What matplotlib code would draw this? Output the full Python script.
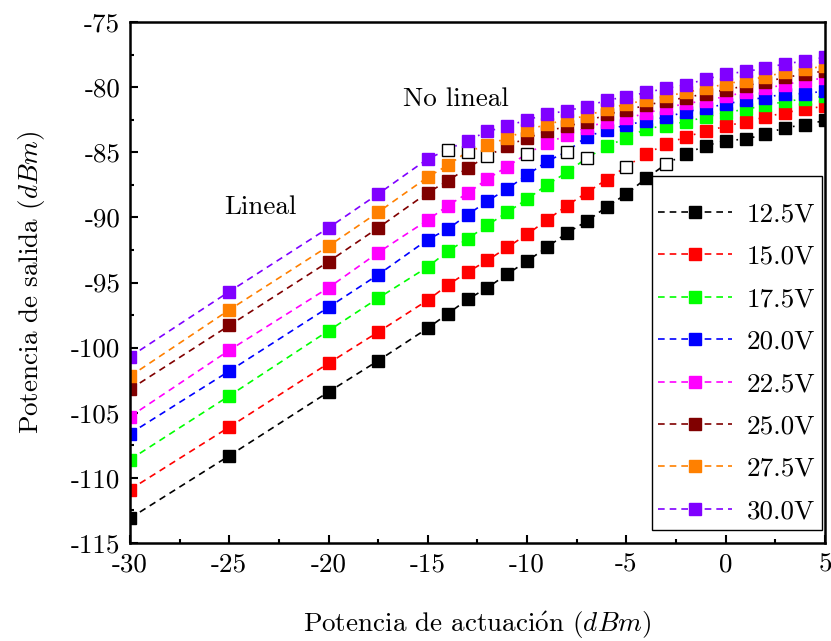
import numpy as np
import matplotlib.pyplot as plt
from matplotlib.lines import Line2D

plt.rcParams['font.family'] = 'cmr10'
plt.rcParams['mathtext.fontset'] = 'cm'
plt.rcParams['axes.unicode_minus'] = False

# potencia de actuacion (dBm)
x = [-30, -25, -20, -17.5, -15, -14, -13, -12, -11, -10, -9, -8, -7, -6, -5,
     -4, -3, -2, -1, 0, 1, 2, 3, 4, 5]

tensiones = ['12.5V', '15.0V', '17.5V', '20.0V', '22.5V', '25.0V', '27.5V', '30.0V']
colores = ['#000000', '#ff0000', '#00ff00', '#0000ff', '#ff00ff', '#800000', '#ff8000', '#8000ff']
# punto donde termina la zona lineal (cuadro hueco)
x_transicion = [-3, -5, -7, -8, -10, -12, -13, -14]

v125 = [-113.1, -108.3, -103.4, -101.0, -98.5, -97.4, -96.3, -95.4, -94.35, -93.35, -92.3, -91.2,
        -90.3, -89.2, -88.2, -87.0, -85.9, -85.1, -84.5, -84.1, -84.0, -83.6, -83.1, -82.9, -82.55]
v150 = [-110.9, -106.1, -101.2, -98.8, -96.35, -95.2, -94.2, -93.3, -92.3, -91.3, -90.2, -89.1,
        -88.1, -87.1, -86.1, -85.1, -84.4, -83.8, -83.4, -83.0, -82.65, -82.3, -81.95, -81.7, -81.45]
v175 = [-108.6, -103.7, -98.7, -96.2, -93.8, -92.6, -91.65, -90.6, -89.6, -88.6, -87.5, -86.55,
        -85.45, -84.55, -83.9, -83.2, -82.95, -82.65, -82.3, -81.95, -81.7, -81.4, -81.1, -80.9, -80.7]
v200 = [-106.6, -101.8, -96.9, -94.4, -91.7, -90.9, -89.8, -88.75, -87.8, -86.75, -85.7, -84.95,
        -83.8, -83.3, -82.9, -82.6, -82.3, -81.9, -81.6, -81.3, -81.0, -80.8, -80.5, -80.5, -80.3]
v225 = [-105.3, -100.2, -95.4, -92.7, -90.2, -89.1, -88.15, -87.05, -86.1, -85.1, -84.3, -83.7,
        -83.1, -82.65, -82.4, -82.0, -81.6, -81.25, -81.05, -80.7, -80.4, -80.1, -79.8, -79.5, -79.3]
v250 = [-103.2, -98.3, -93.4, -90.8, -88.1, -87.2, -86.2, -85.3, -84.5, -83.9, -83.4, -83.0,
        -82.65, -82.1, -81.75, -81.4, -81.05, -80.8, -80.5, -80.2, -79.9, -79.6, -79.25, -79.0, -78.75]
v275 = [-102.2, -97.1, -92.2, -89.6, -86.9, -86.0, -84.95, -84.45, -83.9, -83.3, -82.85, -82.5,
        -82.2, -81.7, -81.3, -81.0, -80.7, -80.4, -80.1, -79.75, -79.5, -79.2, -78.85, -78.6, -78.4]
v300 = [-100.7, -95.7, -90.8, -88.2, -85.5, -84.8, -84.1, -83.4, -83.0, -82.5, -82.1, -81.8,
        -81.5, -81.0, -80.75, -80.4, -80.1, -79.8, -79.4, -79.0, -78.8, -78.55, -78.2, -78.0, -77.7]
series = [v125, v150, v175, v200, v225, v250, v275, v300]

fs = 19.5
fig = plt.figure(figsize=(8.31, 6.41), dpi=100)
ax = fig.add_axes([130/831, 1-543/641, 695/831, 521/641])

xs = np.array(x)
handles = []
for y, c, xt, lab in zip(series, colores, x_transicion, tensiones):
    y = np.array(y)
    i = x.index(xt)
    ax.plot(xs[:i+1], y[:i+1], color=c, lw=1.2, dashes=(4, 3))
    ax.plot(xs[i:], y[i:], color=c, lw=1.2, dashes=(1, 4))
    m = np.arange(len(x)) != i
    ax.plot(xs[m], y[m], ls='none', marker='s', ms=8.5, color=c, mec=c)
    ax.plot(xs[i], y[i], ls='none', marker='s', ms=8.5, mfc='white', mec='black', mew=1.0)
    handles.append(Line2D([], [], color=c, lw=1.2, dashes=(4, 3), marker='s', ms=8.5, mec=c))

ax.set_xlim(-30, 5)
ax.set_ylim(-115, -75)
xt_ = [-30, -25, -20, -15, -10, -5, 0, 5]
yt_ = [-115, -110, -105, -100, -95, -90, -85, -80, -75]
ax.set_xticks(xt_)
ax.set_xticklabels([str(v) for v in xt_])
ax.set_yticks(yt_)
ax.set_yticklabels([str(v) for v in yt_])
ax.set_xticks(np.arange(-27.5, 5, 5), minor=True)
ax.set_yticks(np.arange(-112.5, -75, 5), minor=True)
ax.tick_params(which='both', direction='in', labelsize=fs, width=1.5)
ax.tick_params(which='major', length=6, pad=7)
ax.tick_params(which='minor', length=3)
for s in ax.spines.values():
    s.set_linewidth(1.8)

ax.set_xlabel(r'Potencia de actuaci$\mathrm{\acute{o}}$n $(dBm)$', fontsize=fs, labelpad=24)
ax.set_ylabel(r'Potencia de salida $(dBm)$', fontsize=fs, labelpad=17)

ax.text(-23.45, -89.2, 'Lineal', ha='center', va='center', fontsize=fs)
ax.text(-13.6, -80.9, 'No lineal', ha='center', va='center', fontsize=fs)

leg = ax.legend(handles, tensiones, loc='lower right', bbox_to_anchor=(0.9957, 0.025),
                borderaxespad=0, fontsize=fs, fancybox=False, framealpha=1,
                edgecolor='black', handlelength=2.7, handletextpad=0.55,
                labelspacing=0.68, borderpad=0.25,
                title=' ', title_fontsize=1)
leg.get_frame().set_linewidth(1.0)

fig.savefig('out.png', dpi=100)
